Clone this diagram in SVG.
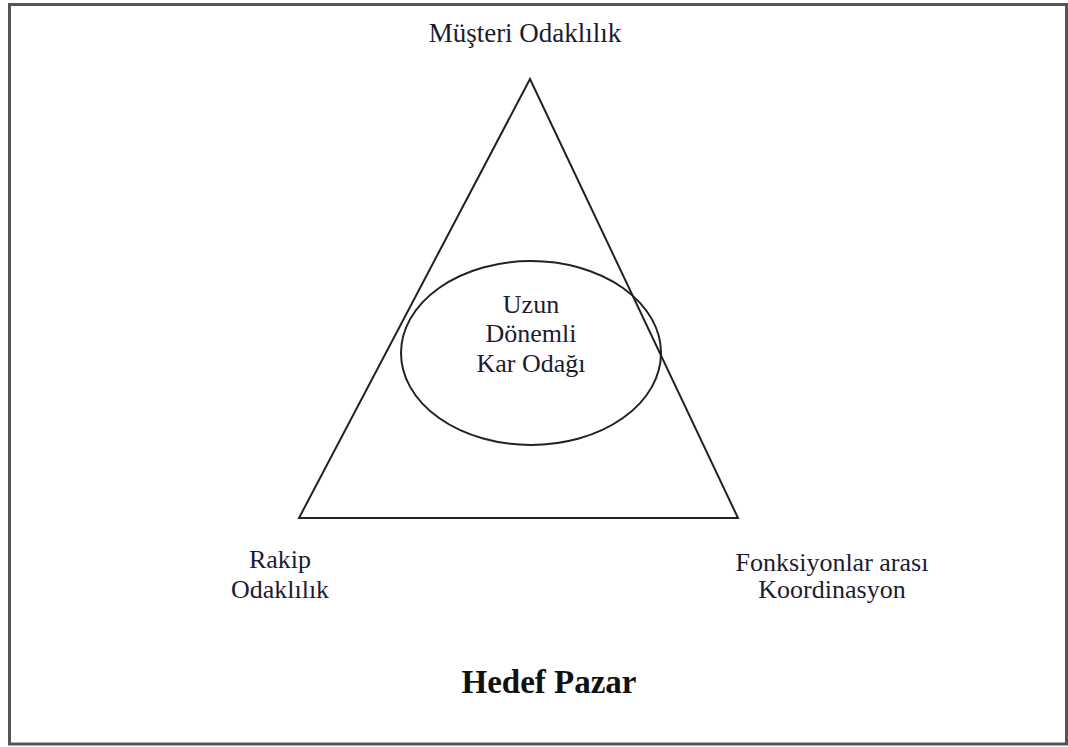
<svg xmlns="http://www.w3.org/2000/svg" width="1068" height="747" viewBox="0 0 1068 747">
<style>
.t{font-family:"Liberation Serif","Times New Roman",serif;font-size:26px;fill:#1c1c30;text-anchor:middle}
.b{font-family:"Liberation Serif","Times New Roman",serif;font-size:33px;font-weight:bold;fill:#111;text-anchor:middle}
.s{fill:none;stroke:#222;stroke-width:2}
</style>
<rect x="0" y="0" width="1068" height="747" fill="#fff"/>
<rect id="frame" x="9.5" y="4.5" width="1057" height="739.5" fill="none" stroke="#555" stroke-width="3"/>
<g id="connectors">
<polygon id="triangle" class="s" points="530,79 299,518 738,518"/>
</g>
<g id="center">
<ellipse class="s" cx="531" cy="353" rx="130" ry="92"/>
<text class="t" x="531" y="313">Uzun</text>
<text class="t" x="531" y="342">Dönemli</text>
<text class="t" x="531" y="372">Kar Odağı</text>
</g>
<g id="top"><text class="t" x="525" y="42" style="font-size:27px">Müşteri Odaklılık</text></g>
<g id="left"><text class="t" x="280" y="568">Rakip</text><text class="t" x="280" y="598">Odaklılık</text></g>
<g id="right"><text class="t" x="832" y="571">Fonksiyonlar arası</text><text class="t" x="832" y="598">Koordinasyon</text></g>
<g id="bottom"><text class="b" x="549" y="693">Hedef Pazar</text></g>
</svg>
